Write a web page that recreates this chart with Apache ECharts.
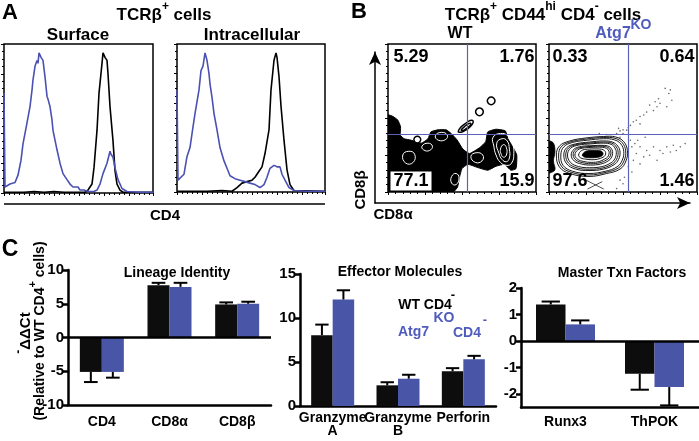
<!DOCTYPE html>
<html><head><meta charset="utf-8">
<script src="https://cdn.jsdelivr.net/npm/echarts@6/dist/echarts.min.js"></script>
<style>html,body{margin:0;padding:0;background:#fff}#c{width:699px;height:441px}</style>
</head><body><div id="c"></div>
<script>
// ---------- Panel A: CD4 histograms [channel, % of max] ----------
const surfaceWT = [[0,0.5],[20,0.5],[30,1],[40,0.5],[50,1],[60,0.5],[70,0.5],[81,0.5],[84,2],[88,6],[90,17],[93,42],[95,67],[98,87],[99,94],[101,91],[103,89],[104,80],[106,58],[109,35],[111,15],[113,6],[116,2],[119,0.5],[149,0.5]];
const surfaceKO = [[0,67],[1,4],[6,6],[11,7],[14,12],[17,22],[19,33],[23,47],[26,58],[28,69],[29,76],[31,85],[33,89],[34,87],[35,94],[37,91],[39,89],[41,78],[43,65],[44,63],[46,58],[48,49],[49,42],[53,29],[56,20],[59,13],[63,9],[66,6],[69,4],[74,4],[76,2],[78,3],[80,2],[84,1],[90,1],[93,2],[96,6],[99,13],[103,20],[106,28],[107,26],[109,24],[111,17],[114,9],[118,3],[123,1],[135,0.5],[149,0.5]];
const intraWT = [[0,0.5],[30,0.5],[45,1],[55,0.5],[57,1],[60,3],[65,6],[70,7],[75,8],[78,10],[82,14],[85,17],[88,26],[92,42],[94,69],[97,89],[99,94],[100,91],[102,78],[104,58],[107,35],[110,15],[113,5],[117,1],[148,0.5]];
const intraKO = [[0,69],[1,8],[3,8],[7,12],[10,24],[13,30],[16,44],[18,53],[22,69],[24,82],[26,85],[28,94],[30,89],[32,80],[33,73],[35,64],[37,53],[40,42],[43,30],[47,21],[50,16],[53,11],[58,9],[63,8],[68,7],[73,6],[78,5],[83,3],[87,5],[90,10],[93,16],[97,18],[100,17],[103,17],[105,12],[108,8],[112,3],[117,1],[130,0.5],[148,0.5]];

// ---------- Panel B: flow plots (0-100 channel units) ----------
const gateX = 53.4, gateY = 39;
const wtQuad = ['5.29','1.76','77.1','15.9'];
const koQuad = ['0.33','0.64','97.6','1.46'];
const wtBlob = [[0,0],[0,52],[3.4,51],[6.7,48.5],[8.5,44],[8.3,38.4],[11,36],[15.7,35],[22.5,33],[27,36],[29,40.6],[33.7,42],[39.3,42],[42.7,39.5],[46.5,35.4],[50.6,29],[55,26],[62,30],[66,34],[67.4,40.6],[73,42.4],[79.3,41.3],[81,36],[84,31],[87,25],[86.5,15.8],[83,14.7],[78.7,18.7],[73,17.4],[67.4,14.7],[60.7,16.5],[54,18.7],[50,15.8],[48.3,10],[47,3.4],[44,0]];
const wtRings = [
  [[22.1,35.4],[21.4,37],[19.8,37.7],[18.2,37],[17.5,35.4],[18.2,33.8],[19.8,33.1],[21.4,33.8]],
  [[64.4,54.2],[63.6,56],[61.8,56.8],[60,56],[59.2,54.2],[60,52.4],[61.8,51.6],[63.6,52.4]],
  [[72.3,61.6],[71.5,63.4],[69.7,64.2],[67.9,63.4],[67.1,61.6],[67.9,59.8],[69.7,59],[71.5,59.8]],
  [[47.5,41],[49,43.5],[52,46],[55.5,48.3],[57.5,48],[57,45.8],[54.5,43.2],[51,41],[48.5,40.3]],
  [[49.5,42],[51.5,44],[54.5,46.2],[56,46.3],[55.5,45],[53,43],[50.5,41.5]]
];
const wtInner = [
  [[71,37],[76,39.5],[81,38],[84,33],[85,26],[83.5,19.5],[80,18],[76,20],[73,25],[71.5,31]],
  [[73.5,33],[77,36],[80.5,34.5],[82,29],[82,23],[80,20.5],[77,22],[75,26]],
  [[76,29],[78,32],[80,30],[80,25],[78,23.5],[76.5,25.5]],
  [[56,24],[59.5,26.5],[64,25],[63.5,21],[59,20]],
  [[10,25],[14,27.5],[18,25.5],[17,20],[12,19.5]],
  [[32,38],[36,40.3],[40,38.5],[39,35.5],[34,35]],
  [[43,10.5],[46,12.5],[48,9.5],[46,5],[43,6]],
  [[23,31],[27,33],[30,31],[28,28],[24,28.5]]
];
const koContours = [
  [[5,25],[7,31],[14,34.5],[25,36.5],[37,37.5],[45,37.2],[50.5,34],[53,28],[52,21],[48,15.5],[39,12.5],[27,10.5],[14,12.5],[7,17]],
  [[6.5,25],[8.5,30.8],[15,34],[25.5,35.8],[37,36.8],[44.5,36.3],[49.5,33.3],[51.8,27.8],[50.8,21.3],[47,16.3],[38.5,13.3],[27,11.5],[15,13.3],[8.3,17.5]],
  [[8,25],[10,30.5],[16,33.5],[26,35],[37,36],[44,35.3],[48.5,32.5],[50.5,27.5],[49.5,21.5],[46,17],[38,14],[27,12.5],[16,14],[9.5,18]],
  [[10,25],[12,30],[18,32.5],[27,33.7],[37,34.5],[43,33.7],[46.5,31],[48,27],[47,22],[44,18.5],[37,15.5],[27,14.5],[18,15.5],[12,19]],
  [[11.3,25],[13.2,29.7],[19,32.1],[27.5,33.1],[37,33.7],[42.5,33],[45.5,30.4],[46.7,26.7],[45.7,22.2],[43,19.1],[36.5,16.3],[27.2,15.4],[19,16.3],[13.2,19.5]],
  [[12.5,25],[14.5,29.5],[20,31.7],[28,32.5],[37,33],[42,32.2],[44.5,29.8],[45.5,26.5],[44.5,22.5],[42,19.8],[36,17.2],[27.5,16.4],[20,17.2],[14.5,20]],
  [[15,25],[17,29],[22,30.8],[29,31.3],[36.5,31.5],[40.5,30.8],[42.5,28.7],[43,26],[42,23],[40,21],[35,18.9],[28,18.2],[22,18.9],[17,21]],
  [[16.3,25],[18.2,28.8],[23,30.3],[29.5,30.8],[36.2,30.9],[39.8,30.1],[41.5,28.2],[41.8,25.8],[40.8,23.3],[38.8,21.6],[34.5,19.8],[28.3,19.1],[22.8,19.8],[18.3,21.5]],
  [[17.5,25],[19.5,28.5],[24,29.8],[30,30.2],[36,30.2],[39,29.4],[40.5,27.6],[40.5,25.5],[39.5,23.5],[37.5,22.2],[34,20.6],[28.5,20],[23.5,20.6],[19.5,22]],
  [[20,25],[22,28],[26,28.9],[31,29.1],[35.5,28.9],[37.5,28],[38.3,26.5],[38,24.8],[36.5,23.5],[33,22.2],[29,21.8],[25,22.2],[21.5,23]]
];
const koFilled = [
  [[22.5,25],[25,27.6],[31,28],[35.5,27.5],[36.5,25.5],[35,24],[31,23.2],[26,23.2],[23.5,23.8]],
  [[0,34],[3,33],[4,27],[3,21],[4,15],[1,13],[0,13]]
];
const koStrays = [[[25,8],[37,2]],[[26,2],[36,7]]];
const koDots = [[78.5,70],[81,66.6],[83,62],[75,60],[73,57.6],[70.6,55],[66,54],[64,52],[61.5,51],[59,48.5],[57,47.4],[55,45],[53.6,43.6],[74,63],[68,58.7],[79.6,57.6],[61.5,46],[82,69],[71.7,61],[52.5,41.8],[48,41.3],[50,42],[47,43],
  [55,35],[58,32.7],[61.5,30.5],[66,28],[70.6,30.5],[75,28],[79.6,30.5],[84,31.6],[88.7,30.5],[92,32.7],[59,26],[64,23.7],[68,24.8],[73,21.4],[77,26],[56,30.5],[60,35],[65,37],[82,27],[86,28],[57,21.4],[61.5,19],[53.6,17],[56,13.5],[51,10],[48,8],[50,5.6],[45.7,2.3],
  [48,37],[50,39.5],[45.7,39.5],[39,38.8],[34,39.5]];

// ---------- Panel C: -ddCt bars ----------
const lineageCats = ['CD4','CD8α','CD8β'];
const lineageWT = [-5.1, 7.75, 4.9];
const lineageWTErr = [-6.6, 8.1, 5.2];
const lineageKO = [-5.1, 7.5, 5.0];
const lineageKOErr = [-5.95, 8.1, 5.3];
const effectorCats = ['Granzyme\nA','Granzyme\nB','Perforin'];
const effectorWT = [8.05, 2.35, 3.95];
const effectorWTErr = [9.25, 2.7, 4.3];
const effectorKO = [12.1, 3.1, 5.3];
const effectorKOErr = [13.15, 3.55, 5.7];
const txnCats = ['Runx3','ThPOK'];
const txnWT = [1.38, -1.23];
const txnWTErr = [1.49, -1.83];
const txnKO = [0.63, -1.73];
const txnKOErr = [0.78, -2.42];

const F = '"Liberation Sans", Arial, Helvetica, sans-serif';
const BLUE = '#4955a7';
const LBLUE = '#4b50b3';
const QBLUE = '#5a63b8';
const TBLUE = '#4f5bbd';
const BLACK = '#0d0d0d';

const chart = echarts.init(document.getElementById('c'), null, {renderer:'canvas'});

function polyRender(shapes, fill, stroke, lw, smooth) {
  return function (params, api) {
    const pts = shapes[params.dataIndex].map(p => api.coord(p));
    return {type:'polygon', shape:{points:pts, smooth:smooth}, style:{fill:fill, stroke:stroke, lineWidth:lw}};
  };
}
function polySeries(idx, shapes, fill, stroke, lw, smooth, z) {
  return {type:'custom', xAxisIndex:idx, yAxisIndex:idx, z:z||2, silent:true,
    data: shapes.map(s => s[0]), renderItem: polyRender(shapes, fill, stroke, lw, smooth), clip:true};
}
function errSeries(idx, vals, errs, side, bw) {
  return {type:'custom', xAxisIndex:idx, yAxisIndex:idx, z:5, silent:true,
    data: vals.map((v,i) => [i, v, errs[i]]),
    renderItem: function (params, api) {
      const p0 = api.coord([api.value(0), api.value(1)]);
      const p1 = api.coord([api.value(0), api.value(2)]);
      const x = p0[0] + side * bw / 2;
      const cw = bw * 0.62;
      return {type:'group', children:[
        {type:'line', shape:{x1:x, y1:p0[1], x2:x, y2:p1[1]}, style:{stroke:'#000', lineWidth:2}},
        {type:'line', shape:{x1:x-cw/2, y1:p1[1], x2:x+cw/2, y2:p1[1]}, style:{stroke:'#000', lineWidth:2}}
      ]};
    }};
}

const histX = (i, max) => ({gridIndex:i, type:'value', min:0, max:max,
  axisLine:{show:false}, axisLabel:{show:false}, splitLine:{show:false},
  axisTick:{show:true, inside:false, length:3, lineStyle:{color:'#000', width:1}}, interval:25,
  minorTick:{show:true, splitNumber:5, length:2, lineStyle:{color:'#000'}}});
const histY = (i) => ({gridIndex:i, type:'value', min:0, max:100, interval:20,
  axisLine:{show:false}, axisLabel:{show:false}, splitLine:{show:false},
  axisTick:{show:true, inside:false, length:3, lineStyle:{color:'#000', width:1}},
  minorTick:{show:true, splitNumber:4, length:2, lineStyle:{color:'#000'}}});
const flowAx = (i) => ({gridIndex:i, type:'value', min:0, max:100, interval:25,
  axisLine:{show:false}, axisLabel:{show:false}, splitLine:{show:false},
  axisTick:{show:true, inside:false, length:3, lineStyle:{color:'#000', width:1}},
  minorTick:{show:true, splitNumber:5, length:2, lineStyle:{color:'#000'}}});
const catLabel = {color:'#000', fontFamily:F, fontWeight:'bold', fontSize:14};
const valLabel = {color:'#000', fontFamily:F, fontWeight:'bold', fontSize:15};
const catAx = (i, cats, margin, lh) => ({gridIndex:i, type:'category', data:cats,
  axisLine:{onZero:false, lineStyle:{color:'#000', width:2.5}},
  axisTick:{alignWithLabel:true, length:5, lineStyle:{color:'#000', width:2.5}},
  axisLabel:Object.assign({margin:margin, lineHeight:lh, interval:0}, catLabel),
  splitLine:{show:false}});
const valAx = (i, min, max, interval, custom) => {
  const a = {gridIndex:i, type:'value', min:min, max:max,
    axisLine:{show:true, lineStyle:{color:'#000', width:2.5}},
    axisTick:{show:true, length:5, lineStyle:{color:'#000', width:2.5}},
    axisLabel:Object.assign({margin:4}, valLabel), splitLine:{show:false}};
  if (interval) a.interval = interval;
  if (custom) { a.axisLabel.customValues = custom; a.axisTick.customValues = custom; }
  return a;
};
const zeroLine = {symbol:['none','none'], silent:true, label:{show:false},
  lineStyle:{color:'#000', width:2.5, type:'solid'}, data:[{yAxis:0}]};
const line = (idx, data, color) => ({type:'line', xAxisIndex:idx, yAxisIndex:idx, data:data,
  showSymbol:false, symbol:'none', lineStyle:{color:color, width:1.6}, z:3});
const bar = (idx, data, color, bw, ml) => {
  const s = {type:'bar', xAxisIndex:idx, yAxisIndex:idx, data:data, barWidth:bw, barGap:'0%',
    itemStyle:{color:color}, z:2};
  if (ml) s.markLine = zeroLine;
  return s;
};

function txt(x, y, text, size, color, extra) {
  return Object.assign({type:'text', x:x, y:y, silent:true, style:{text:text, fill:color||'#000',
    font:'bold ' + size + 'px ' + F, textAlign:'center', textVerticalAlign:'middle',
    align:'center', verticalAlign:'middle'}}, extra || {});
}
function rich(x, y, text, size, supSize, color, rotation) {
  const el = {type:'text', x:x, y:y, silent:true, style:{text:text, fill:color||'#000',
    font:'bold ' + size + 'px ' + F, textAlign:'center', textVerticalAlign:'middle',
    align:'center', verticalAlign:'middle',
    rich:{a:{fontSize:size, fontWeight:'bold', fontFamily:F, lineHeight:size+6, verticalAlign:'bottom', fill:color||'#000'},
          s:{fontSize:supSize, fontWeight:'bold', fontFamily:F, lineHeight:supSize, verticalAlign:'top', fill:color||'#000'}}}};
  if (rotation) el.rotation = rotation;
  return el;
}

const option = {
  animation:false,
  backgroundColor:'#fff',
  grid:[
    {left:4, top:44, width:149, height:149, show:true, borderColor:'#000', borderWidth:1.5, backgroundColor:'transparent'},
    {left:177, top:44, width:148, height:148, show:true, borderColor:'#000', borderWidth:1.5, backgroundColor:'transparent'},
    {left:388, top:44, width:148, height:148, show:true, borderColor:'#000', borderWidth:1.5, backgroundColor:'transparent'},
    {left:549, top:44, width:148, height:148, show:true, borderColor:'#000', borderWidth:1.5, backgroundColor:'transparent'},
    {left:68, top:270, width:203, height:135},
    {left:300, top:274, width:196, height:132},
    {left:521, top:288, width:178, height:119.5},
    {left:375, top:52, width:315, height:151}
  ],
  xAxis:[
    histX(0,149), histX(1,148), flowAx(2), flowAx(3),
    catAx(4, lineageCats, 9, 16), catAx(5, effectorCats, 6, 13), catAx(6, txnCats, 7, 16),
    {gridIndex:7, type:'value', min:0, max:1, axisLabel:{show:false}, axisTick:{show:false}, splitLine:{show:false},
      axisLine:{show:true, onZero:false, symbol:['none','arrow'], symbolSize:[9,13], lineStyle:{color:'#000', width:1.5}}}
  ],
  yAxis:[
    histY(0), histY(1), flowAx(2), flowAx(3),
    valAx(4, -10, 10, 5), valAx(5, 0, 15, 5), valAx(6, -2.5, 2, null, [-2,-1,0,1,2]),
    {gridIndex:7, type:'value', min:0, max:1, axisLabel:{show:false}, axisTick:{show:false}, splitLine:{show:false},
      axisLine:{show:true, onZero:false, symbol:['none','arrow'], symbolSize:[9,13], lineStyle:{color:'#000', width:1.5}}}
  ],
  series:[
    line(0, surfaceWT, '#000'), line(0, surfaceKO, LBLUE),
    line(1, intraWT, '#000'), line(1, intraKO, LBLUE),
    // WT flow
    polySeries(2, [wtBlob], '#000', '#000', 1, 0.15, 2),
    polySeries(2, wtInner, 'none', '#fff', 1, 0.5, 3),
    polySeries(2, wtRings, '#fff', '#000', 1.5, 0.5, 3),
    {type:'custom', xAxisIndex:2, yAxisIndex:2, silent:true, data:[], renderItem:function(){},
      markLine:{symbol:['none','none'], silent:true, label:{show:false}, z:6,
        lineStyle:{color:QBLUE, width:1.2, type:'solid'}, data:[{xAxis:gateX},{yAxis:gateY}]}},
    // KO flow
    {type:'scatter', xAxisIndex:3, yAxisIndex:3, data:koDots, symbolSize:1.6, itemStyle:{color:'#444'}, silent:true, z:2},
    polySeries(3, koContours, 'none', '#000', 0.9, 0.4, 3),
    polySeries(3, koFilled, '#000', '#000', 0.8, 0.4, 3),
    {type:'custom', xAxisIndex:3, yAxisIndex:3, silent:true, z:3, data:koStrays.map(s=>s[0]),
      renderItem:function(params, api){ const s = koStrays[params.dataIndex];
        return {type:'polyline', shape:{points:s.map(p=>api.coord(p))}, style:{stroke:'#222', lineWidth:0.8, fill:'none'}}; }},
    {type:'custom', xAxisIndex:3, yAxisIndex:3, silent:true, data:[], renderItem:function(){},
      markLine:{symbol:['none','none'], silent:true, label:{show:false}, z:6,
        lineStyle:{color:QBLUE, width:1.2, type:'solid'}, data:[{xAxis:gateX},{yAxis:gateY}]}},
    // arrows grid placeholder
    {type:'scatter', xAxisIndex:7, yAxisIndex:7, data:[]},
    // Panel C
    bar(4, lineageWT, BLACK, 22, true), bar(4, lineageKO, BLUE, 22),
    errSeries(4, lineageWT, lineageWTErr, -1, 22), errSeries(4, lineageKO, lineageKOErr, 1, 22),
    bar(5, effectorWT, BLACK, 21.5), bar(5, effectorKO, BLUE, 21.5),
    errSeries(5, effectorWT, effectorWTErr, -1, 21.5), errSeries(5, effectorKO, effectorKOErr, 1, 21.5),
    bar(6, txnWT, BLACK, 29.5, true), bar(6, txnKO, BLUE, 29.5),
    errSeries(6, txnWT, txnWTErr, -1, 29.5), errSeries(6, txnKO, txnKOErr, 1, 29.5)
  ],
  graphic:[
    txt(10, 13, 'A', 22), txt(359, 12, 'B', 22), txt(10, 250, 'C', 23),
    rich(164, 12, '{a|TCRβ}{s|+}{a| cells}', 17, 12),
    txt(78, 35, 'Surface', 17), txt(252, 35, 'Intracellular', 17),
    {type:'line', silent:true, shape:{x1:4, y1:204, x2:325, y2:204}, style:{stroke:'#000', lineWidth:1.5}},
    txt(165, 216, 'CD4', 15),
    rich(543, 12, '{a|TCRβ}{s|+}{a| CD44}{s|hi}{a| CD4}{s|-}{a| cells}', 17, 12),
    txt(460, 34, 'WT', 16),
    txt(613, 34, 'Atg7', 16, TBLUE), txt(641, 25, 'KO', 14, TBLUE),
    txt(411, 57, wtQuad[0], 18), txt(517, 57, wtQuad[1], 18),
    txt(411, 181, wtQuad[2], 18, '#000', {style:{text:wtQuad[2], fill:'#000', font:'bold 18px ' + F,
      textAlign:'center', textVerticalAlign:'middle', align:'center', verticalAlign:'middle', backgroundColor:'#fff', padding:[1,3,0,3]}, z:20}),
    txt(517, 181, wtQuad[3], 18),
    txt(570, 57, koQuad[0], 18), txt(677, 57, koQuad[1], 18),
    txt(570, 181, koQuad[2], 18), txt(677, 181, koQuad[3], 18),
    txt(361, 190, 'CD8β', 15, '#000', {rotation:Math.PI/2}),
    txt(393, 215, 'CD8α', 15),
    // Panel C texts
    rich(23, 333, '{s|-}{a|ΔΔCt}', 15, 12, '#000', Math.PI/2),
    rich(37, 331, '{a|(Relative to WT CD4}{s|+}{a| cells)}', 14, 11, '#000', Math.PI/2),
    txt(177, 273, 'Lineage Identity', 14), txt(400, 272, 'Effector Molecules', 14), txt(622, 273, 'Master Txn Factors', 14),
    txt(425, 305, 'WT CD4', 14), txt(453, 295, '-', 13),
    txt(413.5, 332, 'Atg7', 14, TBLUE), txt(444, 318, 'KO', 14, TBLUE), txt(467, 333, 'CD4', 14, TBLUE), txt(485, 320, '-', 13, TBLUE)
  ]
};
chart.setOption(option);
</script></body></html>
